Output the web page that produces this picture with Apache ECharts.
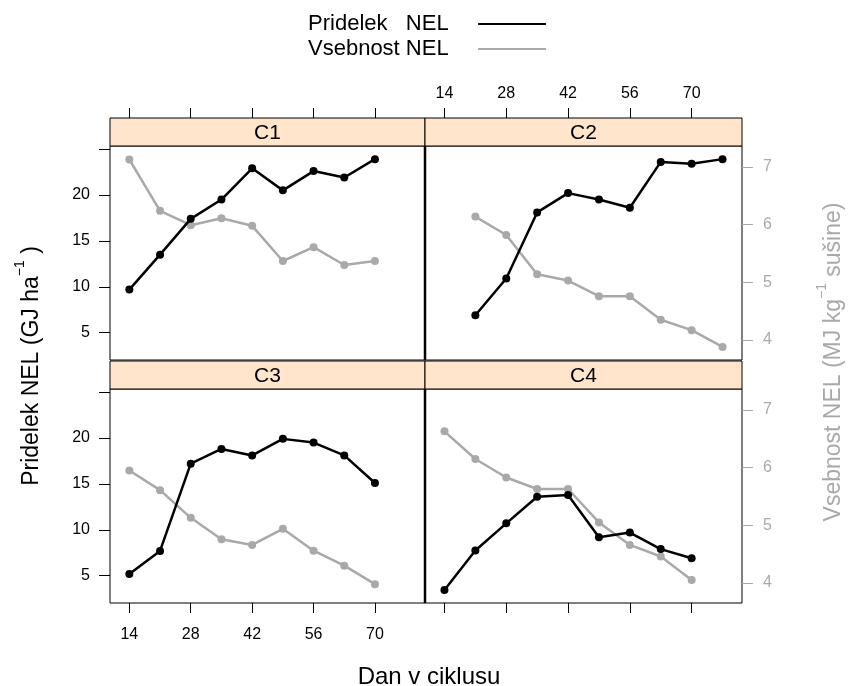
<!DOCTYPE html>
<html>
<head>
<meta charset="utf-8">
<script src="https://cdn.jsdelivr.net/npm/echarts@6/dist/echarts.min.js"></script>
<style>
  html, body { margin: 0; padding: 0; background: #fff; }
  #chart { width: 858px; height: 686px; }
</style>
</head>
<body>
<div id="chart"></div>
<script>
// panels and days of the cycle
const panels = ['C1', 'C2', 'C3', 'C4'];
const daysC1 = [14, 21, 28, 35, 42, 49, 56, 63, 70];
const daysC2 = [21, 28, 35, 42, 49, 56, 63, 70, 77];
const daysC3 = [14, 21, 28, 35, 42, 49, 56, 63, 70];
const daysC4 = [14, 21, 28, 35, 42, 49, 56, 63, 70];

// Pridelek NEL (GJ ha-1), left axis
const pridelekC1 = [9.7, 13.5, 17.4, 19.5, 22.9, 20.5, 22.6, 21.9, 23.9];
const pridelekC2 = [6.9, 10.9, 18.1, 20.2, 19.5, 18.6, 23.6, 23.4, 23.9];
const pridelekC3 = [5.2, 7.7, 17.2, 18.8, 18.1, 19.9, 19.5, 18.1, 15.1];
const pridelekC4 = [3.45, 7.75, 10.7, 13.6, 13.8, 9.2, 9.7, 7.9, 6.9];

// Vsebnost NEL (MJ kg-1 susine), right axis
const vsebnostC1 = [7.13, 6.24, 5.99, 6.11, 5.98, 5.37, 5.61, 5.30, 5.37];
const vsebnostC2 = [6.14, 5.82, 5.14, 5.03, 4.76, 4.76, 4.35, 4.17, 3.88];
const vsebnostC3 = [5.95, 5.61, 5.13, 4.76, 4.66, 4.94, 4.56, 4.30, 3.98];
const vsebnostC4 = [6.63, 6.15, 5.83, 5.63, 5.63, 5.05, 4.66, 4.46, 4.05];

// ticks
const xTicks = [14, 28, 42, 56, 70];
const leftTicks = [5, 10, 15, 20, 25];
const leftLabels = [5, 10, 15, 20];
const rightTicks = [4, 5, 6, 7];

const days = [daysC1, daysC2, daysC3, daysC4];
const pridelek = [pridelekC1, pridelekC2, pridelekC3, pridelekC4];
const vsebnost = [vsebnostC1, vsebnostC2, vsebnostC3, vsebnostC4];

const FONT = '"Liberation Sans", Arial, sans-serif';
const GRAY = '#a9a9a9';
const STRIP_H = 28;

// panel boxes (plot area, strip sits above)
const boxes = [
  { left: 110, top: 146, width: 315, height: 214 },
  { left: 425, top: 146, width: 317, height: 214 },
  { left: 110, top: 389, width: 315, height: 214 },
  { left: 425, top: 389, width: 317, height: 214 }
];

const chart = echarts.init(document.getElementById('chart'));

let grids = [], xAxes = [], yAxes = [], series = [], graphics = [];

boxes.forEach(function (b, i) {
  grids.push({
    left: b.left, top: b.top, width: b.width, height: b.height,
    show: true, borderColor: '#000', borderWidth: 1, backgroundColor: '#fff'
  });
  let isTop = i < 2;
  let showXLabel = (i === 1 || i === 2);
  xAxes.push({
    type: 'value', gridIndex: i, min: 9.59, max: 81.41,
    position: isTop ? 'top' : 'bottom',
    offset: isTop ? STRIP_H : 0,
    axisLine: { show: false },
    splitLine: { show: false },
    axisTick: { show: true, length: 10, customValues: xTicks, lineStyle: { color: '#000', width: 1 } },
    axisLabel: {
      show: showXLabel, customValues: xTicks, margin: isTop ? 16 : 24,
      color: '#000', fontSize: 16, fontFamily: FONT
    }
  });
  let leftSide = (i % 2 === 0);
  // left axis (Pridelek)
  yAxes.push({
    type: 'value', gridIndex: i, position: 'left', min: 2.03, max: 25.33,
    show: leftSide,
    axisLine: { show: false },
    splitLine: { show: false },
    axisTick: { show: true, length: 11, customValues: leftTicks, lineStyle: { color: '#000', width: 1 } },
    axisLabel: { customValues: leftLabels, margin: 20, color: '#000', fontSize: 16, fontFamily: FONT }
  });
  // right axis (Vsebnost)
  yAxes.push({
    type: 'value', gridIndex: i, position: 'right', min: 3.653, max: 7.364,
    show: !leftSide,
    axisLine: { show: false },
    splitLine: { show: false },
    axisTick: { show: true, length: 11, customValues: rightTicks, lineStyle: { color: GRAY, width: 1 } },
    axisLabel: { customValues: rightTicks, margin: 21, color: GRAY, fontSize: 16, fontFamily: FONT }
  });

  series.push({
    name: 'Pridelek NEL', type: 'line', xAxisIndex: i, yAxisIndex: i * 2,
    data: days[i].map(function (d, k) { return [d, pridelek[i][k]]; }),
    symbol: 'circle', symbolSize: 8, showSymbol: true,
    lineStyle: { color: '#000', width: 2.5 },
    itemStyle: { color: '#000' }, z: 3
  });
  series.push({
    name: 'Vsebnost NEL', type: 'line', xAxisIndex: i, yAxisIndex: i * 2 + 1,
    data: days[i].map(function (d, k) { return [d, vsebnost[i][k]]; }),
    symbol: 'circle', symbolSize: 8, showSymbol: true,
    lineStyle: { color: GRAY, width: 2.5 },
    itemStyle: { color: GRAY }, z: 2
  });

  // strip
  graphics.push({
    type: 'rect', shape: { x: b.left, y: b.top - STRIP_H, width: b.width, height: STRIP_H },
    style: { fill: '#ffe5cc', stroke: '#000', lineWidth: 1 }
  });
  graphics.push({
    type: 'text', x: b.left + b.width / 2, y: b.top - STRIP_H / 2 + 1,
    style: { text: panels[i], fontSize: 21, fontFamily: FONT, fill: '#000', align: 'center', verticalAlign: 'middle' }
  });
});

// thicker divider between the columns
graphics.push({ type: 'line', shape: { x1: 425, y1: 146, x2: 425, y2: 360 }, style: { stroke: '#000', lineWidth: 2.5 } });
graphics.push({ type: 'line', shape: { x1: 425, y1: 389, x2: 425, y2: 603 }, style: { stroke: '#000', lineWidth: 2.5 } });

// axis titles
graphics.push({
  type: 'text', x: 429, y: 677,
  style: { text: 'Dan v ciklusu', fontSize: 24, fontFamily: FONT, fill: '#000', align: 'center', verticalAlign: 'middle' }
});
graphics.push({
  type: 'text', x: 28, y: 366, rotation: Math.PI / 2,
  style: {
    text: '{a|Pridelek NEL (GJ ha}{s|−1}{a| )}', align: 'center', verticalAlign: 'middle',
    rich: {
      a: { fontSize: 23, fontFamily: FONT, fill: '#000', lineHeight: 30, verticalAlign: 'bottom' },
      s: { fontSize: 14, fontFamily: FONT, fill: '#000', lineHeight: 30, verticalAlign: 'top' }
    }
  }
});
graphics.push({
  type: 'text', x: 830, y: 362, rotation: Math.PI / 2,
  style: {
    text: '{a|Vsebnost NEL (MJ kg}{s|−1}{a| sušine)}', align: 'center', verticalAlign: 'middle',
    rich: {
      a: { fontSize: 23, fontFamily: FONT, fill: GRAY, lineHeight: 30, verticalAlign: 'bottom' },
      s: { fontSize: 14, fontFamily: FONT, fill: GRAY, lineHeight: 30, verticalAlign: 'top' }
    }
  }
});

chart.setOption({
  animation: false,
  backgroundColor: '#fff',
  legend: {
    orient: 'vertical', left: 303, top: 8, align: 'right',
    icon: 'rect', itemWidth: 68, itemHeight: 2, itemGap: 3,
    data: ['Pridelek NEL', 'Vsebnost NEL'],
    // pad the text so both keys start at the same x, as in the original
    formatter: function (name) {
      let label = name === 'Pridelek NEL' ? 'Pridelek\u00a0\u00a0\u00a0NEL' : name;
      return label + '\u00a0\u00a0\u00a0\u00a0';
    },
    textStyle: { fontSize: 22, fontFamily: FONT, color: '#000' }
  },
  grid: grids,
  xAxis: xAxes,
  yAxis: yAxes,
  series: series,
  graphic: graphics
});
</script>
</body>
</html>
